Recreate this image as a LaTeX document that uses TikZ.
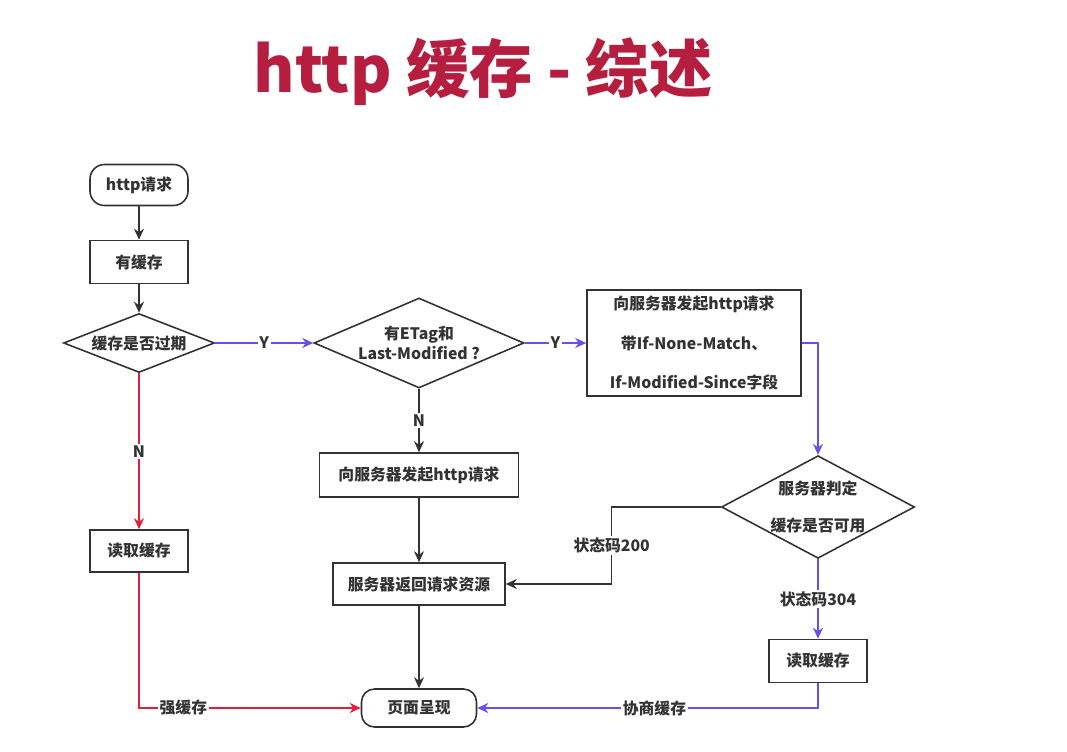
\documentclass[tikz,border=0pt]{standalone}
\usepackage{fontspec}
\newfontfamily\cjk{Noto Sans CJK SC}
\usetikzlibrary{shapes.geometric,arrows.meta}
\definecolor{titlered}{RGB}{181,30,62}
\definecolor{flowblue}{RGB}{106,76,240}
\definecolor{flowred}{RGB}{226,30,58}
\definecolor{ink}{RGB}{51,51,51}

\begin{document}
\begin{tikzpicture}[x=0.2mm,y=-0.2mm]
		\tikzstyle{every node}=[font=\cjk\bfseries\fontsize{9pt}{11pt}\selectfont, text=ink]
		\tikzstyle{box}=[draw=ink, line width=0.9pt, inner sep=0pt, align=center]
		\tikzstyle{term}=[box, rounded corners=2.9mm]
		\tikzstyle{test}=[draw=ink, line width=0.9pt, diamond, inner sep=0pt, align=center]
		\tikzstyle{flow}=[line width=0.9pt, draw=ink, -{Stealth[length=2.2mm, width=2mm]}]
		\tikzstyle{yes}=[flow, draw=flowblue]
		\tikzstyle{no}=[flow, draw=flowred]
		\tikzstyle{tag}=[fill=white, inner sep=1pt]
		
		\useasboundingbox (0,0) rectangle (1067,752);
		
		\node[font=\cjk\bfseries\fontsize{36pt}{40pt}\selectfont, text=titlered] (title) at (483,72) {http 缓存 - 综述};
		
		\node[term, minimum width=19.6mm, minimum height=8.2mm] (start) at (139,185) {http请求};
		\node[box, minimum width=19.6mm, minimum height=8.6mm] (has) at (139,262) {有缓存};
		\node[test, aspect=2.56, minimum width=30.2mm, minimum height=11.8mm] (expired) at (139,343) {缓存是否过期};
		\node[test, aspect=2.33, minimum width=42mm, minimum height=18mm] (etag) at (419,343) {有ETag和\\Last-Modified ?};
		\node[box, minimum width=42.8mm, minimum height=21.2mm, font=\cjk\bfseries\fontsize{9pt}{22.7pt}\selectfont] (ask) at (694,343) {向服务器发起http请求\\带If-None-Match、\\If-Modified-Since字段};
		\node[box, minimum width=39.8mm, minimum height=8.8mm] (req) at (419,475) {向服务器发起http请求};
		\node[box, minimum width=34.4mm, minimum height=8.4mm] (ret) at (419,584) {服务器返回请求资源};
		\node[test, aspect=1.88, minimum width=38mm, minimum height=20.2mm, font=\cjk\bfseries\fontsize{9pt}{21pt}\selectfont] (judge) at (818,507) {服务器判定\\缓存是否可用};
		\node[box, minimum width=19.6mm, minimum height=8.4mm] (readL) at (139,551) {读取缓存};
		\node[box, minimum width=19.6mm, minimum height=8.6mm] (readR) at (818,661) {读取缓存};
		\node[term, minimum width=23mm, minimum height=7.6mm, rounded corners=2.6mm] (page) at (419,708) {页面呈现};
		
		\draw[flow] (start) -- (has);
		\draw[flow] (has) -- (expired);
		\draw[yes] (expired) -- node[tag]{Y} (etag);
		\draw[no] (expired) -- node[tag]{N} (readL);
		\draw[yes] (etag) -- node[tag]{Y} (ask);
		\draw[flow] (etag) -- node[tag]{N} (req);
		\draw[flow] (req) -- (ret);
		\draw[yes] (ask) -| (judge);
		\draw[flow] (judge.west) -- ++(-109,0) |- node[tag, pos=0.25]{状态码200} (ret);
		\draw[yes] (judge) -- node[tag]{状态码304} (readR);
		\draw[yes] (readR) |- node[tag, pos=0.74]{协商缓存} (page);
		\draw[no] (readL) |- node[tag, pos=0.6]{强缓存} (page);
		\draw[flow] (ret) -- (page);
		
	\end{tikzpicture}
\end{document}
